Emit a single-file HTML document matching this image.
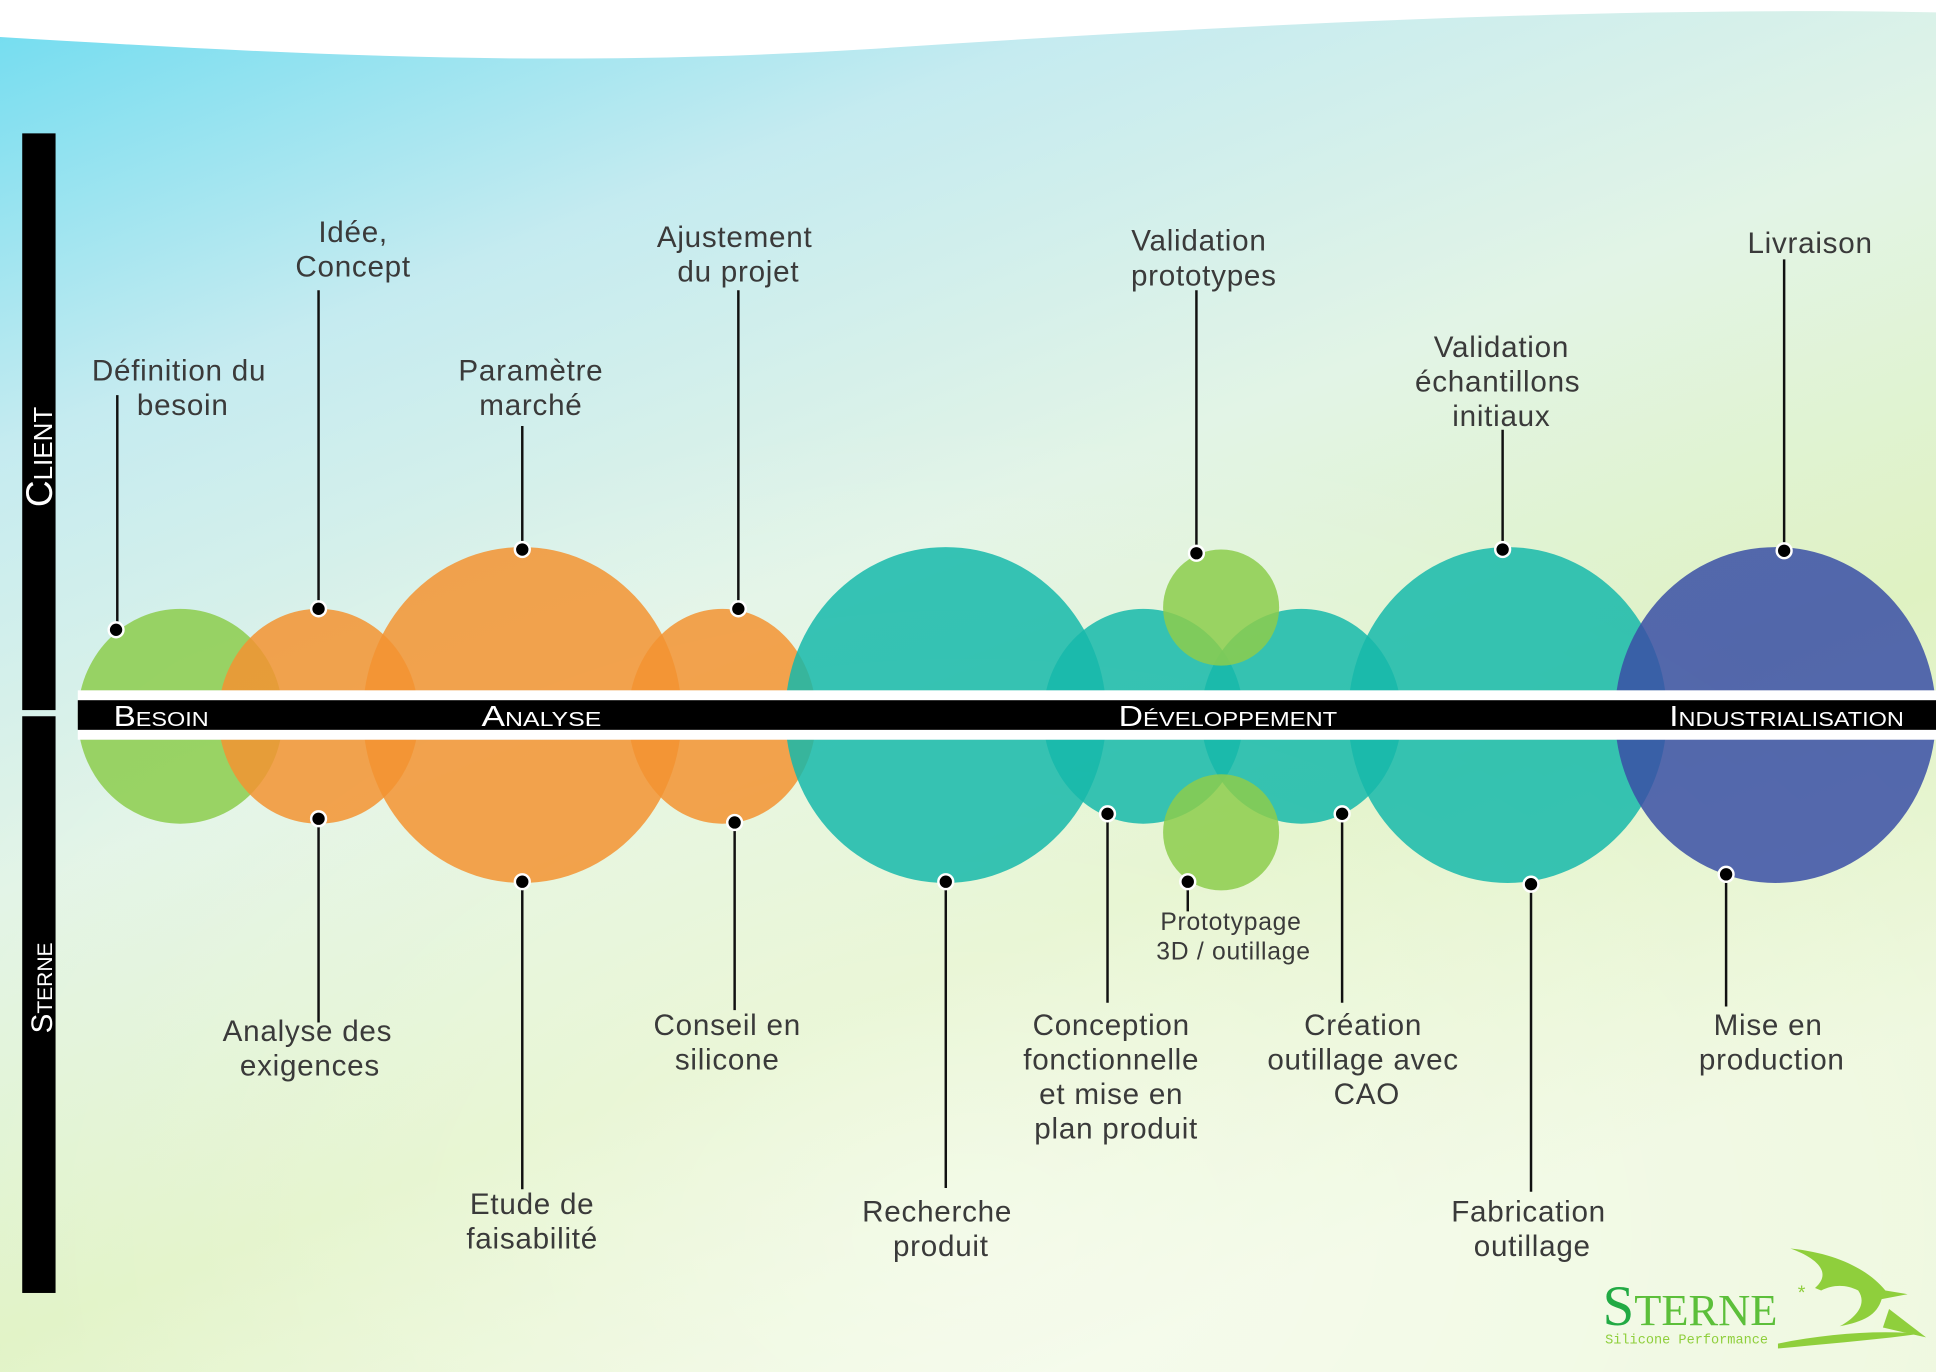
<!DOCTYPE html>
<html><head><meta charset="utf-8"><style>
html,body{margin:0;padding:0;width:1936px;height:1372px;overflow:hidden;background:#fff}
svg{display:block}
text{font-family:"Liberation Sans",sans-serif}
.t{font-size:24px;fill:#3a3a3a;text-anchor:middle}
.b{font-size:23px;fill:#fff;font-variant:small-caps}
</style></head><body>
<svg width="1936" height="1372" viewBox="0 0 1568 1111" preserveAspectRatio="none" xmlns="http://www.w3.org/2000/svg">
<defs>
<linearGradient id="bg" x1="0" y1="0" x2="0.55" y2="1">
<stop offset="0" stop-color="#6fdcf0"/>
<stop offset="0.25" stop-color="#c5ebf0"/>
<stop offset="0.5" stop-color="#e2f4e6"/>
<stop offset="0.75" stop-color="#dff2c2"/>
<stop offset="1" stop-color="#eef8de"/>
</linearGradient>
<radialGradient id="wh" cx="0.5" cy="0.9" r="0.6">
<stop offset="0" stop-color="#fff" stop-opacity="0.5"/>
<stop offset="1" stop-color="#fff" stop-opacity="0"/>
</radialGradient>
</defs>
<rect width="1568" height="1111" fill="url(#bg)"/>
<rect width="1568" height="1111" fill="url(#wh)"/>
<path d="M0 0 H1568 V10 C1300 5 1000 20 700 40 C450 55 250 45 0 30 Z" fill="#fff"/>

<rect x="18" y="108" width="27" height="467" fill="#000"/>
<rect x="18" y="580" width="27" height="467" fill="#000"/>
<text transform="translate(42,370) rotate(-90)" text-anchor="middle" style="font-size:30px;fill:#fff;font-variant:small-caps">Client</text>
<text transform="translate(42,800) rotate(-90)" text-anchor="middle" style="font-size:24px;fill:#fff;font-variant:small-caps">Sterne</text>

<g fill-opacity="0.85">
<ellipse cx="146" cy="580" rx="83" ry="87" fill="#8ccc4c"/>
<ellipse cx="258" cy="580" rx="81" ry="87" fill="#f39331"/>
<ellipse cx="423" cy="579" rx="129" ry="136" fill="#f39331"/>
<ellipse cx="585" cy="580" rx="76" ry="87" fill="#f39331"/>
<ellipse cx="766" cy="579" rx="130" ry="136" fill="#16b9aa"/>
<ellipse cx="926" cy="580" rx="81" ry="87" fill="#16b9aa"/>
<ellipse cx="1054" cy="580" rx="81" ry="87" fill="#16b9aa"/>
<ellipse cx="989" cy="492" rx="47" ry="47" fill="#8ccc4c"/>
<ellipse cx="989" cy="674" rx="47" ry="47" fill="#8ccc4c"/>
<ellipse cx="1221" cy="579" rx="129" ry="136" fill="#16b9aa"/>
<ellipse cx="1438" cy="579" rx="130" ry="136" fill="#3a4fa6"/>
</g>

<rect x="63" y="559" width="1505" height="40" fill="#fff"/>
<rect x="63" y="567" width="1505" height="24" fill="#000"/>
<text class="b" x="92" y="588" textLength="77" lengthAdjust="spacingAndGlyphs">Besoin</text>
<text class="b" x="390" y="588" textLength="97" lengthAdjust="spacingAndGlyphs">Analyse</text>
<text class="b" x="906" y="588" textLength="177" lengthAdjust="spacingAndGlyphs">Développement</text>
<text class="b" x="1352" y="588" textLength="190" lengthAdjust="spacingAndGlyphs">Industrialisation</text>

<g stroke="#111" stroke-width="2">
<line x1="95" y1="320" x2="95" y2="510"/>
<line x1="258" y1="235" x2="258" y2="493"/>
<line x1="423" y1="345" x2="423" y2="445"/>
<line x1="598" y1="235" x2="598" y2="493"/>
<line x1="969" y1="235" x2="969" y2="448"/>
<line x1="1217" y1="348" x2="1217" y2="445"/>
<line x1="1445" y1="210" x2="1445" y2="446"/>
<line x1="258" y1="663" x2="258" y2="828"/>
<line x1="423" y1="714" x2="423" y2="963"/>
<line x1="595" y1="666" x2="595" y2="818"/>
<line x1="766" y1="714" x2="766" y2="962"/>
<line x1="897" y1="659" x2="897" y2="812"/>
<line x1="962" y1="714" x2="962" y2="738"/>
<line x1="1087" y1="659" x2="1087" y2="812"/>
<line x1="1240" y1="716" x2="1240" y2="965"/>
<line x1="1398" y1="708" x2="1398" y2="815"/>
</g>
<g fill="#000" stroke="#fff" stroke-width="2">
<circle cx="94" cy="510" r="6"/><circle cx="258" cy="493" r="6"/><circle cx="423" cy="445" r="6"/>
<circle cx="598" cy="493" r="6"/><circle cx="969" cy="448" r="6"/><circle cx="1217" cy="445" r="6"/>
<circle cx="1445" cy="446" r="6"/><circle cx="258" cy="663" r="6"/><circle cx="423" cy="714" r="6"/>
<circle cx="595" cy="666" r="6"/><circle cx="766" cy="714" r="6"/><circle cx="897" cy="659" r="6"/>
<circle cx="962" cy="714" r="6"/><circle cx="1087" cy="659" r="6"/><circle cx="1240" cy="716" r="6"/>
<circle cx="1398" cy="708" r="6"/>
</g>

<g style="letter-spacing:0.6px">
<text class="t" x="145" y="308">Définition du</text><text class="t" x="148" y="336">besoin</text>
<text class="t" x="286" y="196">Idée,</text><text class="t" x="286" y="224">Concept</text>
<text class="t" x="430" y="308">Paramètre</text><text class="t" x="430" y="336">marché</text>
<text class="t" x="595" y="200">Ajustement</text><text class="t" x="598" y="228">du projet</text>
<text class="t" x="971" y="203">Validation</text><text class="t" x="975" y="231">prototypes</text>
<text class="t" x="1216" y="289">Validation</text><text class="t" x="1213" y="317">échantillons</text><text class="t" x="1216" y="345">initiaux</text>
<text class="t" x="1466" y="205">Livraison</text>
<text class="t" x="249" y="843">Analyse des</text><text class="t" x="251" y="871">exigences</text>
<text class="t" x="431" y="983">Etude de</text><text class="t" x="431" y="1011">faisabilité</text>
<text class="t" x="589" y="838">Conseil en</text><text class="t" x="589" y="866">silicone</text>
<text class="t" x="759" y="989">Recherche</text><text class="t" x="762" y="1017">produit</text>
<text class="t" x="900" y="838">Conception</text><text class="t" x="900" y="866">fonctionnelle</text><text class="t" x="900" y="894">et mise en</text><text class="t" x="904" y="922">plan produit</text>
<text class="t" style="font-size:20px" x="997" y="753">Prototypage</text><text class="t" style="font-size:20px" x="999" y="777">3D / outillage</text>
<text class="t" x="1104" y="838">Création</text><text class="t" x="1104" y="866">outillage avec</text><text class="t" x="1107" y="894">CAO</text>
<text class="t" x="1238" y="989">Fabrication</text><text class="t" x="1241" y="1017">outillage</text>
<text class="t" x="1432" y="838">Mise en</text><text class="t" x="1435" y="866">production</text>
</g>

<text x="1298" y="1073" style="font-family:'Liberation Serif',serif;font-size:46px;fill:#22aa44">S<tspan style="font-size:36px;fill:#5cbf3a">TERNE</tspan></text>
<text x="1456" y="1052" style="font-size:16px;fill:#8fcf3c">*</text>
<text x="1300" y="1088" style="font-family:'Liberation Mono',monospace;font-size:11px;fill:#8fcf3c">Silicone Performance</text>
<g fill="#8fcf3c">
<path d="M1450 1011 C1490 1015 1515 1030 1527 1045 L1545 1048 L1524 1052 C1520 1065 1510 1070 1490 1074 C1505 1066 1512 1055 1505 1045 C1495 1040 1485 1040 1475 1045 L1470 1043 C1485 1030 1470 1018 1450 1011 Z"/>
<path d="M1530 1060 L1560 1083 L1525 1075 Z"/>
<path d="M1440 1088 C1480 1080 1520 1077 1555 1080 C1520 1085 1480 1088 1440 1092 Z"/>
</g>
</svg>
</body></html>
